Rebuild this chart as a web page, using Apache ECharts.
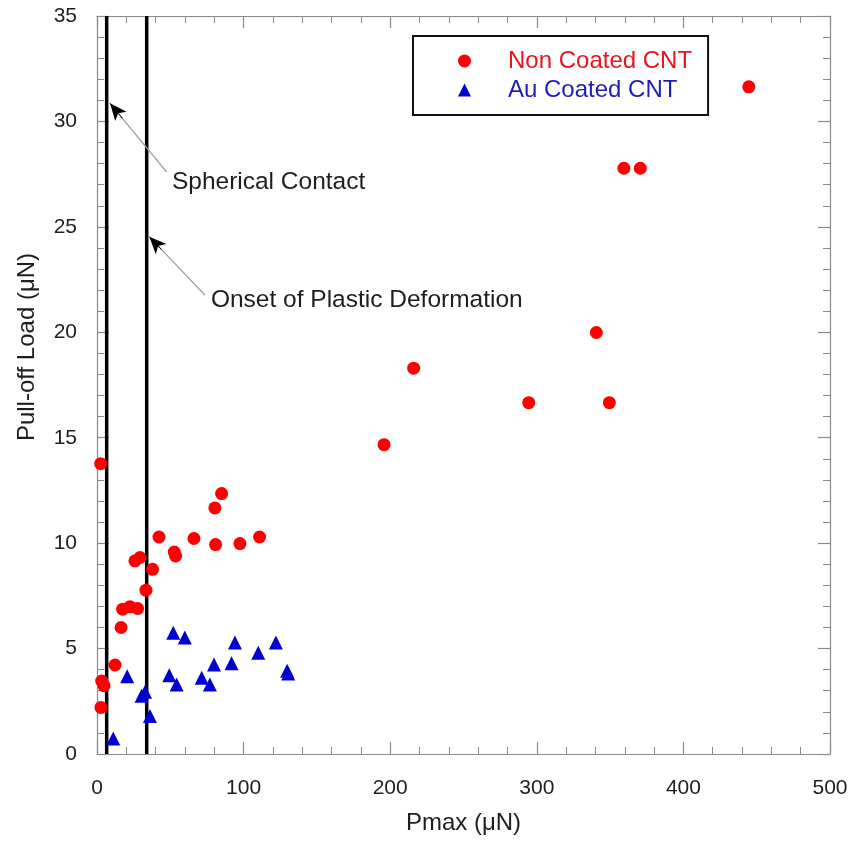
<!DOCTYPE html>
<html>
<head>
<meta charset="utf-8">
<script src="https://cdn.jsdelivr.net/npm/echarts@6/dist/echarts.min.js"></script>
<style>
html,body{margin:0;padding:0;background:#fff;}
#c{width:855px;height:843px;}
</style>
</head>
<body>
<div id="c"></div>
<script>
// ---- data ----
var nonCoated = [
  [2.5,13.77],[85.0,12.35],[80.4,11.67],[42.3,10.29],[66.1,10.22],[110.9,10.29],
  [80.9,9.93],[97.5,9.98],[52.7,9.58],[53.6,9.39],[25.9,9.16],[29.3,9.32],
  [37.9,8.76],[33.4,7.77],[17.5,6.87],[22.5,6.98],[27.7,6.90],[16.4,6.0],
  [12.3,4.22],[3.2,3.46],[4.8,3.24],[2.7,2.21],
  [195.8,14.67],[216,18.3],[294.5,16.66],[349.5,16.66],[340.6,19.99],
  [359.4,27.78],[370.6,27.78],[444.6,31.64]
];
var auCoated = [
  [52.0,5.75],[59.9,5.53],[94.1,5.29],[122.0,5.29],[110.0,4.80],[79.8,4.25],
  [91.8,4.30],[20.6,3.69],[49.3,3.73],[71.4,3.62],[129.7,3.95],[130.4,3.82],
  [54.3,3.30],[77.0,3.30],[30.4,2.76],[32.8,2.95],[36.1,1.80],[11.1,0.74]
];
var seriesNames = ['Non Coated CNT', 'Au Coated CNT'];
var sphericalX = 6.6;
var plasticX = 33.9;
var yRange = [0, 35];
var xRange = [0, 500];
var xInterval = 100;
var yInterval = 5;
// annotations: [tail, tip, textAnchor, text]
var annSpherical = { tail: [47.5, 27.6], tip: [8.9, 30.86], textAt: [51.1, 27.13], text: 'Spherical Contact' };
var annPlastic = { tail: [73.6, 21.77], tip: [35.7, 24.53], textAt: [77.7, 21.53], text: 'Onset of Plastic Deformation' };
var xTitle = 'Pmax (μN)';
var yTitle = 'Pull-off Load (μN)';

// ---- chart ----
var FONT = '"Liberation Sans", Arial, Helvetica, sans-serif';
var AXIS_COLOR = '#8a8a8a';
var chart = echarts.init(document.getElementById('c'), null, { renderer: 'canvas' });

function lerp(a, b, t) { return [a[0] + (b[0] - a[0]) * t, a[1] + (b[1] - a[1]) * t]; }
function arrowLines(ann) {
  var mid = lerp(ann.tail, ann.tip, 0.84);
  var near = lerp(ann.tail, ann.tip, 0.78);
  return [
    [{ coord: ann.tail, symbol: 'none', lineStyle: { color: '#a0a0a0', width: 1.3, type: 'solid' } },
     { coord: mid, symbol: 'none' }],
    [{ coord: near, symbol: 'none', lineStyle: { color: '#000', width: 1, type: 'solid' } },
     { coord: ann.tip, symbol: 'arrow', symbolSize: [11, 17] }]
  ];
}
function textPoint(ann) {
  return { coord: ann.textAt, value: ann.text };
}

function makeXAxis(pos, showLabels) {
  return {
    type: 'value', position: pos, min: xRange[0], max: xRange[1], interval: xInterval,
    axisLine: { show: true, onZero: false, lineStyle: { color: AXIS_COLOR, width: 1.2 } },
    axisTick: { show: true, inside: true, length: 12, lineStyle: { color: AXIS_COLOR, width: 1.2 } },
    minorTick: { show: true, splitNumber: 5, length: 7, lineStyle: { color: AXIS_COLOR, width: 1 } },
    axisLabel: { show: showLabels, fontSize: 21, color: '#1e1e1e', fontFamily: FONT, margin: 24 },
    splitLine: { show: false },
    name: showLabels ? xTitle : '',
    nameLocation: 'middle', nameGap: 57,
    nameTextStyle: { fontSize: 24, color: '#1e1e1e', fontFamily: FONT }
  };
}
function makeYAxis(pos, showLabels) {
  return {
    type: 'value', position: pos, min: yRange[0], max: yRange[1], interval: yInterval,
    axisLine: { show: true, onZero: false, lineStyle: { color: AXIS_COLOR, width: 1.2 } },
    axisTick: { show: true, inside: true, length: 12, lineStyle: { color: AXIS_COLOR, width: 1.2 } },
    minorTick: { show: true, splitNumber: 5, length: 7, lineStyle: { color: AXIS_COLOR, width: 1 } },
    axisLabel: { show: showLabels, fontSize: 21, color: '#1e1e1e', fontFamily: FONT, margin: 20 },
    splitLine: { show: false },
    name: showLabels ? yTitle : '',
    nameLocation: 'middle', nameGap: 58, nameRotate: 90,
    nameTextStyle: { fontSize: 24, color: '#1e1e1e', fontFamily: FONT, padding: [0, 0, 0, 76] }
  };
}

var option = {
  backgroundColor: '#fff',
  animation: false,
  grid: { left: 97, right: 25, top: 16, bottom: 89, containLabel: false },
  legend: {
    orient: 'vertical',
    left: 413, top: 36,
    padding: [13, 16, 13, 45],
    borderColor: '#111', borderWidth: 2,
    backgroundColor: '#fff',
    itemWidth: 13, itemHeight: 13, itemGap: 5,
    selectedMode: false,
    textStyle: { fontSize: 24, fontFamily: FONT, padding: [0, 0, 0, 32] },
    data: [
      { name: seriesNames[0], icon: 'circle', textStyle: { color: '#e8141e', padding: [0, 0, 0, 32] } },
      { name: seriesNames[1], icon: 'triangle', textStyle: { color: '#1e1eb4', padding: [0, 0, 0, 32] } }
    ]
  },
  xAxis: [makeXAxis('bottom', true), makeXAxis('top', false)],
  yAxis: [makeYAxis('left', true), makeYAxis('right', false)],
  series: [
    {
      name: 'spherical', type: 'line', xAxisIndex: 0, yAxisIndex: 0,
      data: [[sphericalX, yRange[0]], [sphericalX, yRange[1]]],
      showSymbol: false, symbol: 'none',
      lineStyle: { color: '#000', width: 3.5 }, z: 3,
      markLine: {
        silent: true, animation: false, symbol: ['none', 'none'],
        label: { show: false },
        data: arrowLines(annSpherical).concat(arrowLines(annPlastic))
      },
      markPoint: {
        silent: true, symbol: 'circle', symbolSize: 0,
        label: {
          show: true, position: 'right', distance: 0,
          formatter: function (p) { return p.value; },
          fontSize: 24.5, color: '#1e1e1e', fontFamily: FONT
        },
        data: [textPoint(annSpherical), textPoint(annPlastic)]
      }
    },
    {
      name: 'plastic', type: 'line', xAxisIndex: 0, yAxisIndex: 0,
      data: [[plasticX, yRange[0]], [plasticX, yRange[1]]],
      showSymbol: false, symbol: 'none',
      lineStyle: { color: '#000', width: 3.5 }, z: 3
    },
    {
      name: seriesNames[0], type: 'scatter', xAxisIndex: 0, yAxisIndex: 0,
      data: nonCoated, symbol: 'circle', symbolSize: 13,
      itemStyle: { color: '#ff0000', opacity: 1 }, z: 4
    },
    {
      name: seriesNames[1], type: 'scatter', xAxisIndex: 0, yAxisIndex: 0,
      data: auCoated, symbol: 'triangle', symbolSize: 14,
      itemStyle: { color: '#0000d0', opacity: 1 }, z: 4
    }
  ]
};
chart.setOption(option);
</script>
</body>
</html>
